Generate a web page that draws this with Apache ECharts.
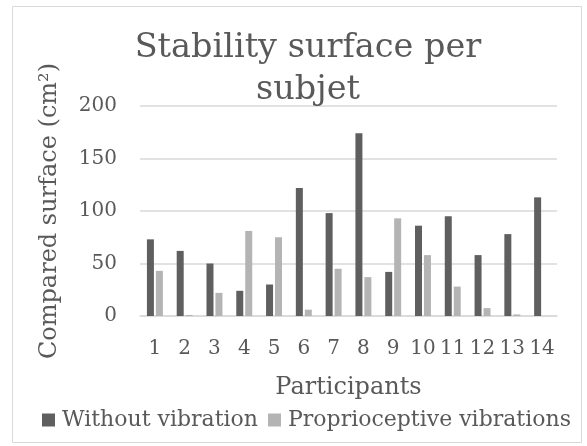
<!DOCTYPE html>
<html>
<head>
<meta charset="utf-8">
<script src="https://cdn.jsdelivr.net/npm/echarts@6/dist/echarts.min.js"></script>
<style>html,body{margin:0;padding:0;background:#fff;}#c{width:587px;height:446px;}</style>
</head>
<body>
<div id="c"></div>
<script>
var participants = ['1','2','3','4','5','6','7','8','9','10','11','12','13','14'];
var withoutVibration = [73, 62, 50, 24, 30, 122, 98, 174, 42, 86, 95, 58, 78, 113];
var proprioceptiveVibrations = [43, 1, 22, 81, 75, 6, 45, 37, 93, 58, 28, 7.5, 1.5, 0];
var yTicks = [0, 50, 100, 150, 200];

var FONT = 'DejaVu Serif';
var TXT = '#595959';
var chart = echarts.init(document.getElementById('c'), null, {renderer: 'canvas'});
chart.setOption({
  animation: false,
  backgroundColor: '#ffffff',
  graphic: [{
    type: 'rect', silent: true, z: -10,
    shape: {x: 12.5, y: 6.5, width: 569, height: 436},
    style: {fill: 'none', stroke: '#d9d9d9', lineWidth: 1}
  }],
  title: {
    text: 'Stability surface per\nsubjet',
    left: 303, top: 22, textAlign: 'center',
    textStyle: {fontFamily: FONT, fontSize: 33.5, fontWeight: 'normal', color: TXT, lineHeight: 42}
  },
  legend: {
    left: 37, top: 404,
    icon: 'rect', itemWidth: 13, itemHeight: 13, itemGap: 10,
    textStyle: {fontFamily: FONT, fontSize: 22, color: TXT, padding: [0,0,0,2]},
    data: ['Without vibration', 'Proprioceptive vibrations']
  },
  grid: {left: 140, right: 30, top: 106, bottom: 130, containLabel: false},
  xAxis: {
    type: 'category', data: participants,
    name: 'Participants', nameLocation: 'middle', nameGap: 60,
    nameTextStyle: {fontFamily: FONT, fontSize: 24, color: TXT},
    axisTick: {show: false},
    axisLine: {lineStyle: {color: '#d9d9d9', width: 1.5}},
    axisLabel: {fontFamily: FONT, fontSize: 20, color: TXT, margin: 23, interval: 0}
  },
  yAxis: {
    type: 'value', min: yTicks[0], max: yTicks[yTicks.length-1], interval: 50,
    name: 'Compared surface (cm²)', nameLocation: 'middle', nameGap: 78,
    nameTextStyle: {fontFamily: FONT, fontSize: 24, color: TXT},
    axisLine: {show: false}, axisTick: {show: false},
    splitLine: {lineStyle: {color: '#d9d9d9', width: 1.5}},
    axisLabel: {fontFamily: FONT, fontSize: 20, color: TXT, margin: 23}
  },
  series: [
    {name: 'Without vibration', type: 'bar', data: withoutVibration, barWidth: 7, barGap: '28%',
     itemStyle: {color: '#5f5f5f'}},
    {name: 'Proprioceptive vibrations', type: 'bar', data: proprioceptiveVibrations, barWidth: 7,
     itemStyle: {color: '#b4b4b4'}}
  ]
});
</script>
</body>
</html>
